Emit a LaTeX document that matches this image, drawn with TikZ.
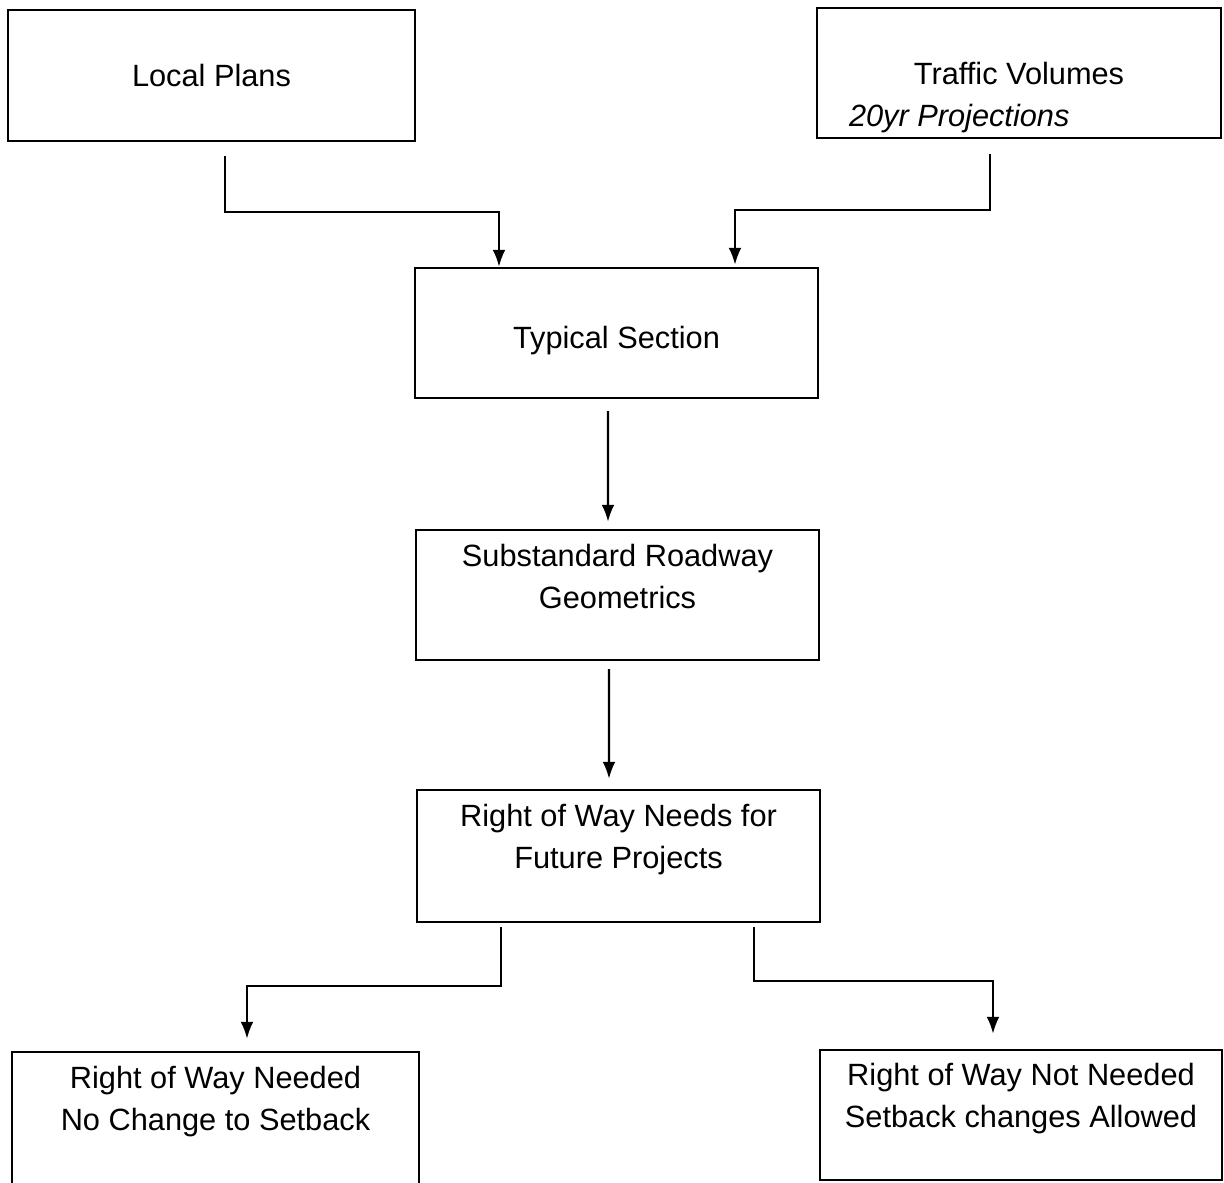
\documentclass[tikz,border=0pt]{standalone}
\usepackage{fontspec}
\setmainfont{Liberation Sans}
\usetikzlibrary{arrows.meta}

\newcommand{\toptext}[3]{\parbox[c][#1][t]{7.9cm}{\centering\vspace*{#2}#3}}

\tikzset{
	flowbox/.style={draw=black,line width=1.4pt,minimum width=8.1cm,minimum height=2.62cm,inner sep=0pt,font=\fontsize{17.5}{24}\selectfont},
	flowarrow/.style={line width=1.4pt,-{Latex[length=0.34cm,width=0.26cm]}}
}

\begin{document}
\begin{tikzpicture}
	\useasboundingbox (0,0) rectangle (24.48,-23.64);
	\node[flowbox,minimum width=8.14cm] (local) at (4.23,-1.51) {Local Plans};
	\node[flowbox,minimum width=8.08cm,minimum height=2.6cm] (traffic) at (20.38,-1.46) {\parbox[c][2.6cm][t]{7.9cm}{\vspace*{1.08cm}\centering Traffic Volumes\par\raggedright\hspace*{0.55cm}{\itshape 20yr Projections}}};
	\node[flowbox,minimum width=8.06cm,minimum height=2.6cm] (typical) at (12.33,-6.66) {\raisebox{-0.3cm}[0pt][0pt]{Typical Section}};
	\node[flowbox,minimum width=8.06cm,minimum height=2.6cm] (geometrics) at (12.35,-11.9) {\toptext{2.6cm}{0.28cm}{Substandard Roadway\\Geometrics}};
	\node[flowbox,minimum width=8.06cm,minimum height=2.64cm] (needs) at (12.37,-17.12) {\toptext{2.64cm}{0.28cm}{Right of Way Needs for\\Future Projects}};
	\node[flowbox,minimum width=8.14cm,minimum height=2.8cm] (needed) at (4.31,-22.44) {\toptext{2.8cm}{0.28cm}{Right of Way Needed\\No Change to Setback}};
	\node[flowbox,minimum width=8.04cm,minimum height=2.6cm] (notneeded) at (20.42,-22.3) {\toptext{2.6cm}{0.26cm}{Right of Way Not Needed\\Setback changes Allowed}};
	\draw[flowarrow] ([xshift=0.27cm,yshift=-0.28cm]local.south) -- ++(0,-1.12) -| ([xshift=-2.35cm]typical.north);
	\draw[flowarrow] ([xshift=-0.58cm,yshift=-0.3cm]traffic.south) -- ++(0,-1.12) -| ([xshift=2.37cm,yshift=0.04cm]typical.north);
	\draw[flowarrow] ([xshift=-0.17cm,yshift=-0.24cm]typical.south) -- ([xshift=-0.19cm,yshift=0.14cm]geometrics.north);
	\draw[flowarrow] ([xshift=-0.17cm,yshift=-0.16cm]geometrics.south) -- ([xshift=-0.19cm,yshift=0.2cm]needs.north);
	\draw[flowarrow] ([xshift=-2.35cm,yshift=-0.08cm]needs.south) -- ++(0,-1.18) -| ([xshift=0.63cm,yshift=0.24cm]needed.north);
	\draw[flowarrow] ([xshift=2.71cm,yshift=-0.08cm]needs.south) -- ++(0,-1.08) -| ([xshift=-0.56cm,yshift=0.3cm]notneeded.north);
\end{tikzpicture}
\end{document}
